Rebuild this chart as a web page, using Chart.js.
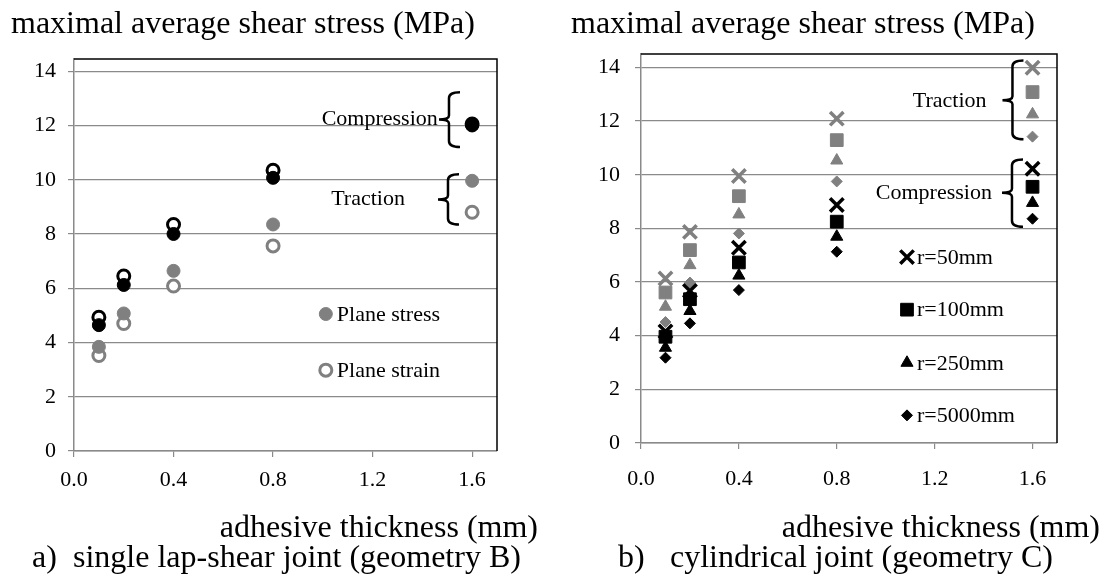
<!DOCTYPE html>
<html><head><meta charset="utf-8">
<script src="https://cdn.jsdelivr.net/npm/chart.js@4.4.0/dist/chart.umd.min.js"></script>
<style>
html,body{margin:0;padding:0;background:#fff;}
body{width:1105px;height:583px;position:relative;overflow:hidden;font-family:"Liberation Serif","Times New Roman",serif;color:#000;}
.t{position:absolute;white-space:nowrap;line-height:1;font-size:32px;}
canvas{position:absolute;top:0;}
</style></head><body>
<canvas id="c1" width="550" height="583" style="left:0"></canvas>
<canvas id="c2" width="550" height="583" style="left:555px"></canvas>
<div class="t" style="left:11px;top:5.5px">maximal average shear stress (MPa)</div>
<div class="t" style="left:571px;top:5.5px">maximal average shear stress (MPa)</div>
<div class="t" style="right:567px;top:510px">adhesive thickness (mm)</div>
<div class="t" style="right:5px;top:510px">adhesive thickness (mm)</div>
<div class="t" style="left:32px;top:540px">a)</div>
<div class="t" style="left:73px;top:540px">single lap-shear joint (geometry B)</div>
<div class="t" style="left:618px;top:540px">b)</div>
<div class="t" style="left:670px;top:540px">cylindrical joint (geometry C)</div>
<script>
// ---------- data ----------
const thickness = [0.1, 0.2, 0.4, 0.8, 1.6];
const yTicksA = [0, 2, 4, 6, 8, 10, 12, 14];
const xTicks = [0.0, 0.4, 0.8, 1.2, 1.6];

// (a) single lap-shear joint
const planeStressCompression = [4.64, 6.12, 8.00, 10.07, 12.00];
const planeStrainCompression = [4.93, 6.45, 8.35, 10.35, 12.05];
const planeStressTraction    = [3.84, 5.07, 6.64, 8.35, 9.96];
const planeStrainTraction    = [3.52, 4.70, 6.08, 7.56, 8.80];

// (b) cylindrical joint
const tractionR50      = [6.13, 7.87, 9.95, 12.09, 13.99];
const tractionR100     = [5.61, 7.19, 9.20, 11.29, 13.08];
const tractionR250     = [5.08, 6.63, 8.52, 10.53, 12.25];
const tractionR5000    = [4.51, 5.98, 7.81, 9.75, 11.42];
const compressionR50   = [4.16, 5.67, 7.28, 8.87, 10.22];
const compressionR100  = [3.96, 5.36, 6.73, 8.25, 9.55];
const compressionR250  = [3.55, 4.92, 6.24, 7.69, 8.95];
const compressionR5000 = [3.18, 4.46, 5.70, 7.13, 8.36];

const legendA = ['Plane stress', 'Plane strain'];
const legendB = ['r=50mm', 'r=100mm', 'r=250mm', 'r=5000mm'];

// ---------- helpers ----------
const FONT = '"Liberation Serif","Times New Roman",serif';
const GRAY = '#808080';
const GRID = '#8a8a8a';
const pts = vals => thickness.map((x, i) => ({x, y: vals[i]}));

function ds(vals, style, radius, fill, border, bw, order) {
  return {data: pts(vals), pointStyle: style, pointRadius: radius, pointHoverRadius: radius,
    backgroundColor: fill, borderColor: border, pointBorderWidth: bw, borderWidth: bw,
    showLine: false, order: order};
}

const overlay = {
  id: 'overlay',
  afterDatasetsDraw(chart, args, o) {
    const ctx = chart.ctx, a = chart.chartArea, xs = chart.scales.x, ys = chart.scales.y;
    ctx.save();
    ctx.strokeStyle = '#000'; ctx.lineWidth = 1.5;
    ctx.beginPath(); ctx.moveTo(a.left, a.top); ctx.lineTo(a.right, a.top); ctx.lineTo(a.right, a.bottom); ctx.stroke();
    ctx.font = '22px ' + FONT; ctx.fillStyle = '#000'; ctx.textBaseline = 'middle';
    (o.braces || []).forEach(b => {
      const xv = xs.getPixelForValue(b.x), t = ys.getPixelForValue(b.top),
            m = ys.getPixelForValue(b.mid), bo = ys.getPixelForValue(b.bottom);
      ctx.lineWidth = 2.5; ctx.strokeStyle = '#000';
      ctx.beginPath();
      ctx.moveTo(xv + 11, t); ctx.quadraticCurveTo(xv, t, xv, t + 6);
      ctx.lineTo(xv, m - 4); ctx.quadraticCurveTo(xv, m, xv - 10, m);
      ctx.moveTo(xv - 10, m); ctx.quadraticCurveTo(xv, m, xv, m + 4);
      ctx.lineTo(xv, bo - 6); ctx.quadraticCurveTo(xv, bo, xv + 11, bo);
      ctx.stroke();
      ctx.textAlign = 'right';
      ctx.fillText(b.label, xs.getPixelForValue(b.textX), ys.getPixelForValue(b.textY));
    });
    (o.legend || []).forEach(it => {
      const x = xs.getPixelForValue(it.x), y = ys.getPixelForValue(it.y);
      ctx.fillStyle = it.fill; ctx.strokeStyle = it.border; ctx.lineWidth = it.bw;
      Chart.helpers.drawPoint(ctx, {pointStyle: it.style, radius: it.r, rotation: 0, borderWidth: it.bw}, x, y);
      ctx.fillStyle = '#000'; ctx.textAlign = 'left';
      ctx.fillText(it.label, x + it.gap, y + 1);
    });
    ctx.restore();
  }
};

function makeChart(id, datasets, geo, extra) {
  return new Chart(document.getElementById(id), {
    type: 'scatter',
    data: {datasets},
    options: {
      responsive: false, animation: false, events: [],
      layout: {padding: {left: 0, top: geo.top, right: geo.right, bottom: geo.bottom}},
      plugins: {legend: {display: false}, tooltip: {enabled: false}, overlay: extra},
      scales: {
        x: {type: 'linear', min: 0, max: 1.7,
          afterFit: s => { s.height = 45; },
          afterBuildTicks: s => { s.ticks = xTicks.map(v => ({value: v})); },
          ticks: {callback: v => v.toFixed(1), font: {family: FONT, size: 22}, color: '#000', padding: geo.xpad, maxRotation: 0},
          grid: {drawOnChartArea: false, drawTicks: true, tickLength: 6, color: GRID, lineWidth: 1.2},
          border: {color: GRID, width: 1.5}},
        y: {type: 'linear', min: 0, max: geo.ymax,
          afterFit: s => { s.width = geo.yw; },
          afterBuildTicks: s => { s.ticks = yTicksA.map(v => ({value: v})); },
          ticks: {font: {family: FONT, size: 22}, color: '#000', padding: geo.ypad},
          grid: {drawOnChartArea: true, drawTicks: true, tickLength: 6, color: GRID, lineWidth: 1.2},
          border: {color: GRID, width: 1.5}}
      }
    },
    plugins: [overlay]
  });
}

// ---------- chart (a) ----------
makeChart('c1', [
  ds(planeStressCompression, 'circle', 6.5, '#000', '#000', 1, 1),
  ds(planeStrainCompression, 'circle', 6, '#fff', '#000', 3, 2),
  ds(planeStressTraction, 'circle', 6.5, GRAY, GRAY, 1, 3),
  ds(planeStrainTraction, 'circle', 6, '#fff', GRAY, 3, 4)
], {top: 59, right: 53, bottom: 87, ymax: 14.45, yw: 74, xpad: 10, ypad: 12}, {
  braces: [
    {x: 1.507, top: 13.22, mid: 12.22, bottom: 11.21, label: 'Compression', textX: 1.462, textY: 12.22},
    {x: 1.503, top: 10.20, mid: 9.27, bottom: 8.35, label: 'Traction', textX: 1.33, textY: 9.27}
  ],
  legend: [
    {x: 1.012, y: 5.05, style: 'circle', r: 6.5, fill: GRAY, border: GRAY, bw: 1, gap: 11, label: legendA[0]},
    {x: 1.012, y: 2.98, style: 'circle', r: 6, fill: '#fff', border: GRAY, bw: 3, gap: 11, label: legendA[1]}
  ]
});

// ---------- chart (b) ----------
makeChart('c2', [
  ds(tractionR50, 'crossRot', 9.5, GRAY, GRAY, 3.5, 8),
  ds(tractionR100, 'rect', 9, GRAY, GRAY, 1, 7),
  ds(tractionR250, 'triangle', 7, GRAY, GRAY, 1, 6),
  ds(tractionR5000, 'rectRot', 5.5, GRAY, GRAY, 1, 5),
  ds(compressionR50, 'crossRot', 9.5, '#000', '#000', 3.5, 4),
  ds(compressionR100, 'rect', 9, '#000', '#000', 1, 3),
  ds(compressionR250, 'triangle', 7, '#000', '#000', 1, 2),
  ds(compressionR5000, 'rectRot', 5.5, '#000', '#000', 1, 1)
], {top: 54, right: 48, bottom: 95, ymax: 14.5, yw: 86, xpad: 17, ypad: 15}, {
  braces: [
    {x: 1.518, top: 14.26, mid: 12.78, bottom: 11.32, label: 'Traction', textX: 1.412, textY: 12.75},
    {x: 1.516, top: 10.57, mid: 9.33, bottom: 8.06, label: 'Compression', textX: 1.434, textY: 9.30}
  ],
  legend: [
    {x: 1.087, y: 6.93, style: 'crossRot', r: 9.5, fill: '#000', border: '#000', bw: 3.5, gap: 10, label: legendB[0]},
    {x: 1.087, y: 4.97, style: 'rect', r: 9, fill: '#000', border: '#000', bw: 1, gap: 10, label: legendB[1]},
    {x: 1.087, y: 2.99, style: 'triangle', r: 7, fill: '#000', border: '#000', bw: 1, gap: 10, label: legendB[2]},
    {x: 1.087, y: 1.03, style: 'rectRot', r: 5.5, fill: '#000', border: '#000', bw: 1, gap: 10, label: legendB[3]}
  ]
});
</script>
</body></html>
